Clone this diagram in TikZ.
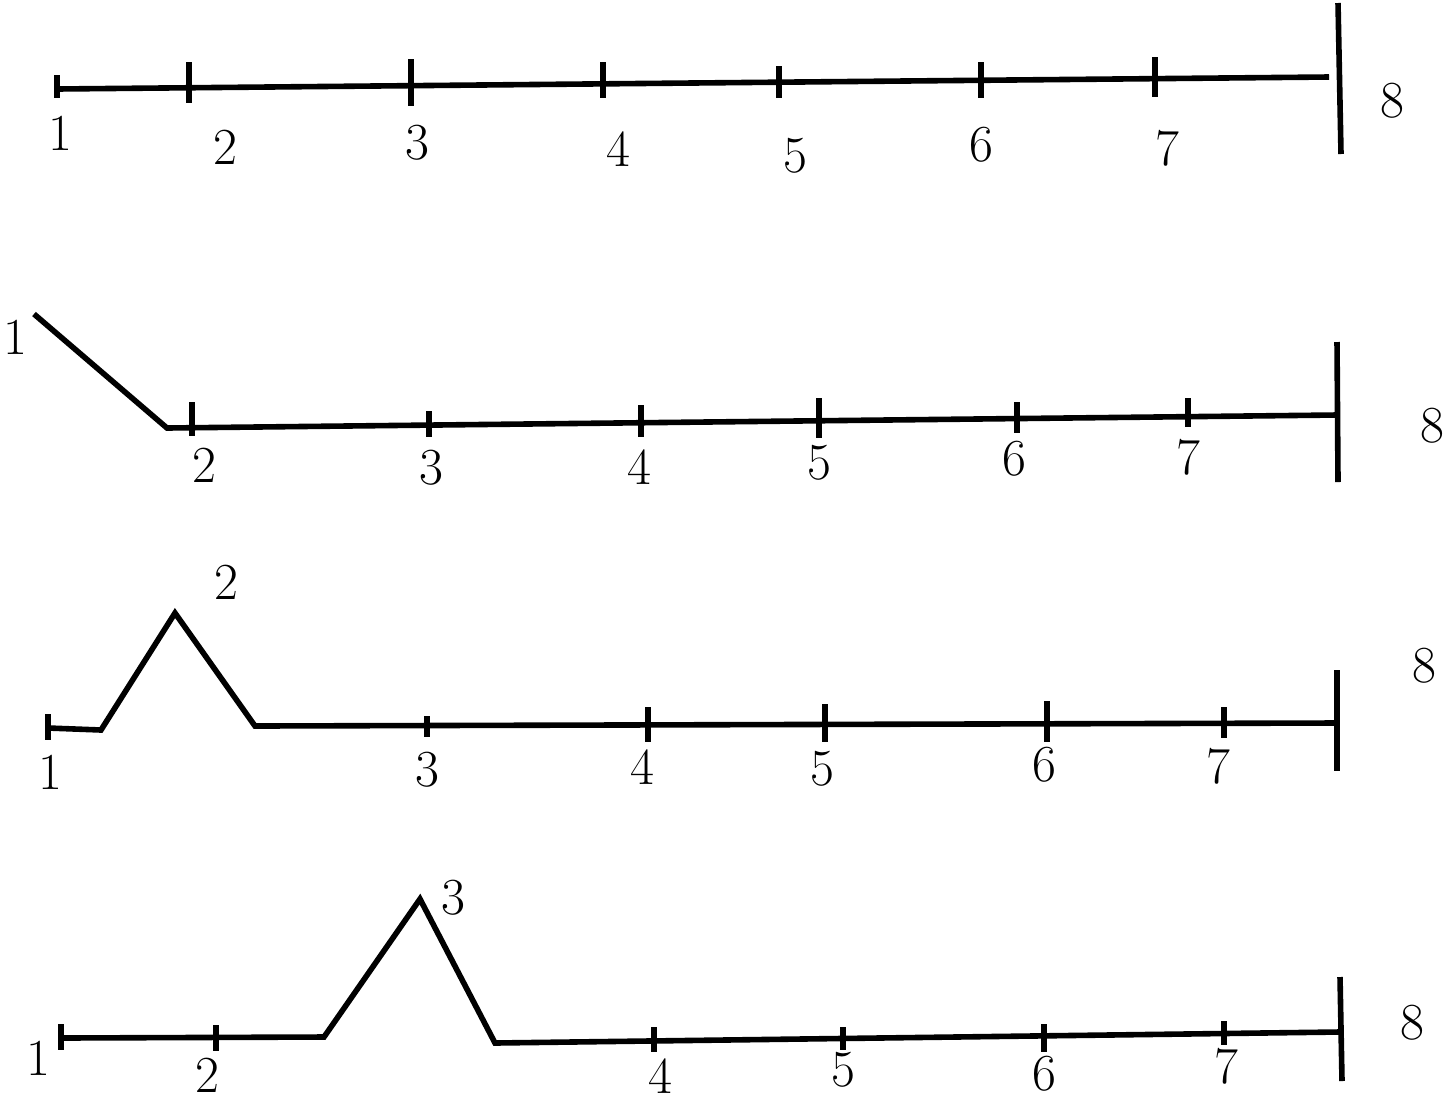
\documentclass[tikz,border=0pt]{standalone}
\begin{document}
\begin{tikzpicture}[x=0.5pt,y=-0.5pt,
  ln/.style={line width=2.8pt},
  lbl/.style={font=\fontsize{26}{30}\selectfont, inner sep=0pt}]
\useasboundingbox (0,0) rectangle (1449,1099);
% ---------- Row 1 ----------
\coordinate (r1s) at (57,89); \coordinate (r1e) at (1329,77);
\draw[ln] (r1s) -- (r1e);
\draw[ln] (57,75) -- (57,98);
\draw[ln] (189,62) -- (189,103);
\draw[ln] (411,59) -- (411,106);
\draw[ln] (603,62) -- (603,98);
\draw[ln] (779,66) -- (779,98);
\draw[ln] (981,62) -- (981,98);
\draw[ln] (1155,57) -- (1155,97);
\draw[ln] (1338,3) -- (1341,154);
\node[lbl] (r1l1) at (60,133) {1};
\node[lbl] (r1l2) at (225,147) {2};
\node[lbl] (r1l3) at (417,143) {3};
\node[lbl] (r1l4) at (618,149) {4};
\node[lbl] (r1l5) at (795,156) {5};
\node[lbl] (r1l6) at (981,145) {6};
\node[lbl] (r1l7) at (1167,148) {7};
\node[lbl] (r1l8) at (1392,101) {8};
% ---------- Row 2 ----------
\coordinate (r2a) at (34,314); \coordinate (r2b) at (167,428); \coordinate (r2c) at (1337,415);
\draw[ln] (r2a) -- (r2b) -- (r2c);
\draw[ln] (192,402) -- (192,436);
\draw[ln] (429,411) -- (429,437);
\draw[ln] (641,405) -- (641,437);
\draw[ln] (819,398) -- (819,438);
\draw[ln] (1017,402) -- (1017,433);
\draw[ln] (1188,398) -- (1188,427);
\draw[ln] (1337,342) -- (1338,482);
\node[lbl] (r2l1) at (15,337) {1};
\node[lbl] (r2l2) at (204,465) {2};
\node[lbl] (r2l3) at (431,468) {3};
\node[lbl] (r2l4) at (639,467) {4};
\node[lbl] (r2l5) at (819,463) {5};
\node[lbl] (r2l6) at (1014,459) {6};
\node[lbl] (r2l7) at (1188,457) {7};
\node[lbl] (r2l8) at (1432,426) {8};
% ---------- Row 3 ----------
\coordinate (r3a) at (48,728); \coordinate (r3b) at (101,730); \coordinate (r3c) at (175,613);
\coordinate (r3d) at (255,726); \coordinate (r3e) at (1336,723);
\draw[ln] (r3a) -- (r3b) -- (r3c) -- (r3d) -- (r3e);
\draw[ln] (48,714) -- (48,740);
\draw[ln] (427,716) -- (427,737);
\draw[ln] (648,707) -- (648,742);
\draw[ln] (825,704) -- (825,742);
\draw[ln] (1047,701) -- (1047,742);
\draw[ln] (1224,707) -- (1224,738);
\draw[ln] (1337,670) -- (1337,771);
\node[lbl] (r3l1) at (50,772) {1};
\node[lbl] (r3l2) at (226,582) {2};
\node[lbl] (r3l3) at (427,770) {3};
\node[lbl] (r3l4) at (642,767) {4};
\node[lbl] (r3l5) at (822,769) {5};
\node[lbl] (r3l6) at (1044,765) {6};
\node[lbl] (r3l7) at (1218,766) {7};
\node[lbl] (r3l8) at (1424,666) {8};
% ---------- Row 4 ----------
\coordinate (r4a) at (61,1038); \coordinate (r4b) at (324,1037); \coordinate (r4c) at (420,899);
\coordinate (r4d) at (495,1043); \coordinate (r4e) at (1339,1032);
\draw[ln] (r4a) -- (r4b) -- (r4c) -- (r4d) -- (r4e);
\draw[ln] (61,1024) -- (61,1050);
\draw[ln] (216,1025) -- (216,1051);
\draw[ln] (654,1027) -- (654,1052);
\draw[ln] (843,1027) -- (843,1050);
\draw[ln] (1044,1024) -- (1044,1052);
\draw[ln] (1224,1021) -- (1224,1045);
\draw[ln] (1340,977) -- (1342,1081);
\node[lbl] (r4l1) at (38,1058) {1};
\node[lbl] (r4l2) at (207,1075) {2};
\node[lbl] (r4l3) at (453,898) {3};
\node[lbl] (r4l4) at (660,1076) {4};
\node[lbl] (r4l5) at (843,1070) {5};
\node[lbl] (r4l6) at (1044,1074) {6};
\node[lbl] (r4l7) at (1226,1066) {7};
\node[lbl] (r4l8) at (1412,1023) {8};
\end{tikzpicture}
\end{document}
